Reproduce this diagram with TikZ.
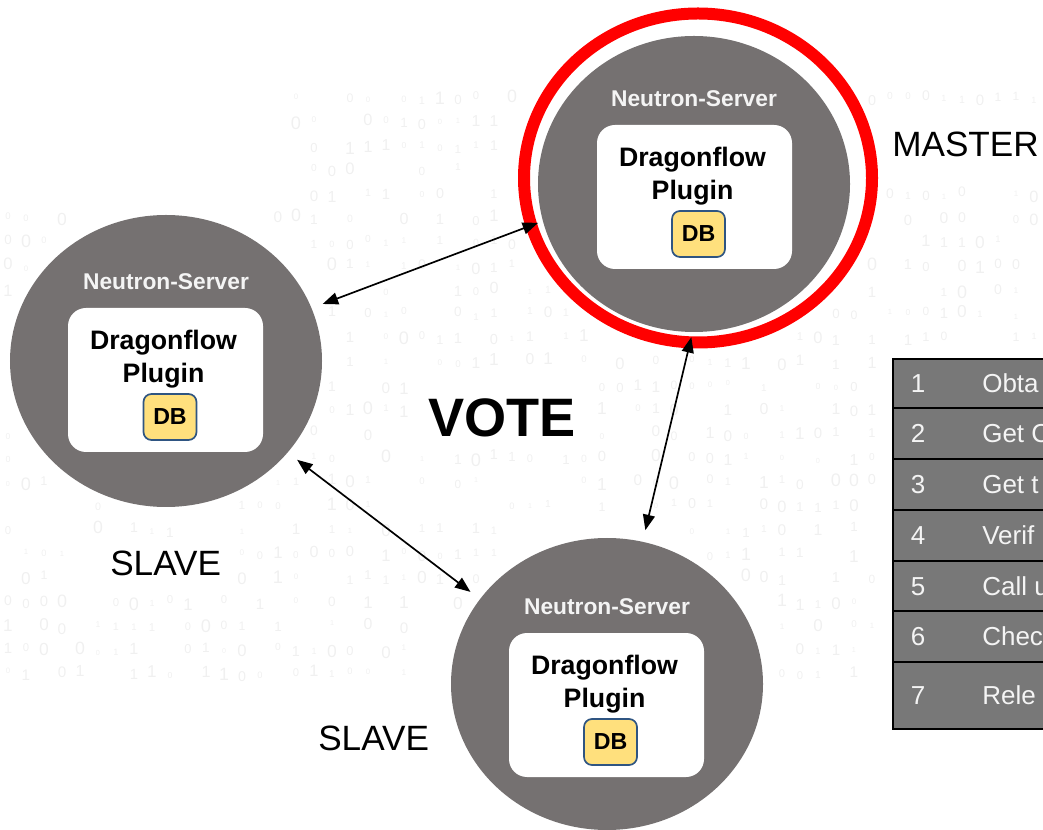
\documentclass[tikz,border=0pt]{standalone}
\usepackage{fontspec}
\setmainfont{Liberation Sans}
\usetikzlibrary{shapes.geometric, arrows.meta, positioning}
\definecolor{servergray}{RGB}{117,113,113}
\definecolor{dbyellow}{RGB}{255,224,125}
\definecolor{dbblue}{RGB}{47,85,130}
\definecolor{tablegray}{RGB}{120,120,120}
\definecolor{bitgray}{RGB}{240,240,240}
\definecolor{labelwhite}{RGB}{244,244,244}

\tikzset{
  server/.style={ellipse, fill=servergray, minimum width=7.8cm, minimum height=7.3cm, inner sep=0pt, outer sep=0.3cm},
  plugin/.style={rectangle, rounded corners=0.45cm, fill=white, minimum width=4.875cm, minimum height=3.6cm},
  dbbox/.style={rectangle, rounded corners=0.2cm, draw=dbblue, line width=1.2pt, fill=dbyellow,
    minimum width=1.325cm, minimum height=1.15cm, inner sep=0pt, font=\fontsize{16.5}{18}\selectfont\bfseries},
  srvname/.style={text=labelwhite, inner sep=0pt, font=\fontsize{16.2}{18}\selectfont\bfseries},
  plugname/.style={align=center, inner sep=0pt, font=\fontsize{19}{23.5}\selectfont\bfseries},
  role/.style={inner sep=0pt, anchor=base west, font=\fontsize{25}{28}\selectfont},
  link/.style={{Triangle[length=11pt,width=8.5pt]}-{Triangle[length=11pt,width=8.5pt]}, line width=1.2pt},
  tabrow/.style={rectangle, draw=black, line width=1.4pt, fill=tablegray, minimum width=4.5cm, inner sep=0pt},
  tabtext/.style={text=labelwhite, inner sep=0pt, font=\fontsize{18.5}{20}\selectfont},
  bit/.style={text=bitgray, inner sep=0pt}
}

\begin{document}
\begin{tikzpicture}
    \useasboundingbox (0,0) rectangle (26.075,20.725);
    \clip (0,0) rectangle (26.075,20.725);

    % faint binary digits in the free space
    \pgfmathsetseed{42}
    \foreach \x [count=\i] in {0.2,0.65,...,26.0}{
      \foreach \y [count=\j] in {3.8,4.4,...,18.7}{
        \pgfmathrandominteger{\digit}{0}{1}
        \pgfmathrandominteger{\keep}{0}{2}
        \pgfmathsetmacro{\sz}{5+8*rnd}
        \pgfmathsetmacro{\dy}{0.15*rnd}
        % leave out the servers, the table and the big labels
        \pgfmathsetmacro{\inleft}{((\x-4.15)/4.2)^2+((\y-11.7)/4.0)^2<1}
        \pgfmathsetmacro{\inmaster}{((\x-17.45)/4.8)^2+((\y-16.275)/4.55)^2<1}
        \pgfmathsetmacro{\inbottom}{((\x-15.175)/4.2)^2+((\y-3.625)/4.0)^2<1}
        \pgfmathsetmacro{\inbox}{(\x>22.0 && \y<12.1) || (\x>10.3 && \x<14.8 && \y>9.4 && \y<11.1)
                                 || (\x>2.4 && \x<5.9 && \y>5.8 && \y<7.3) || (\x>22.0 && \y>15.8 && \y<18.0)}
        \pgfmathparse{(\y<15.7 || \x>7) && !\inleft && !\inmaster && !\inbottom && !\inbox ? \keep : 0}
        \ifnum\pgfmathresult>0
          \node[bit, font=\fontsize{\sz}{\sz}\selectfont] (bit\i-\j) at (\x,\y+\dy) {\digit};
        \fi
      }
    }

    % Master: red ring around the server
    \node[ellipse, draw=red, line width=0.3cm, minimum width=8.7cm, minimum height=8.225cm] (ring) at (17.45,16.275) {};

    % Servers
    \node[server, minimum height=7.4cm, outer sep=0.13cm] (master) at (17.35,16.125) {};
    \node[server] (slaveleft) at (4.15,11.7) {};
    \node[server] (slavebottom) at (15.175,3.625) {};

    % Plugin boxes
    \node[plugin] (plugmaster) at (17.3625,15.8) {};
    \node[plugin] (plugleft) at (4.1375,11.225) {};
    \node[plugin] (plugbottom) at (15.1625,3.1) {};

    % Labels inside the servers
    \node[srvname] (namemaster) at (17.35,18.25) {Neutron-Server};
    \node[srvname] (nameleft) at (4.15,13.675) {Neutron-Server};
    \node[srvname] (namebottom) at (15.175,5.55) {Neutron-Server};

    \node[plugname] (dfmaster) at (17.3125,16.325) {Dragonflow\\Plugin};
    \node[plugname] (dfleft) at (4.0875,11.75) {Dragonflow\\Plugin};
    \node[plugname] (dfbottom) at (15.1125,3.625) {Dragonflow\\Plugin};

    % DB boxes
    \node[dbbox] (dbmaster) at (17.4625,14.875) {DB};
    \node[dbbox] (dbleft) at (4.25,10.3) {DB};
    \node[dbbox] (dbbottom) at (15.2625,2.175) {DB};

    % Arrows
    \draw[link] (slaveleft.20.6) -- (master.194);
    \draw[link] (slaveleft.-37) -- (slavebottom.146.7);
    \draw[link] (master.269.3) -- (slavebottom.76.1);

    % Roles
    \node[role] (mastertag) at (22.3,16.8) {MASTER};
    \node[role] (slavetagleft) at (2.75,6.3375) {SLAVE};
    \node[role] (slavetagbottom) at (7.95,1.9625) {SLAVE};
    \node[role, font=\fontsize{38.5}{42}\selectfont\bfseries] (vote) at (10.7,9.8) {VOTE};

    % Steps table
    \foreach \i/\lbl/\ytop/\rowh in {1/Obta/11.775/1.2375, 2/Get C/10.5375/1.2625, 3/Get t/9.275/1.275,
        4/Verif/8.0/1.275, 5/Call u/6.725/1.25, 6/Chec/5.475/1.275, 7/Rele/4.2/1.675}{
      \node[tabrow, minimum height=\rowh cm, anchor=north west] (row\i) at (22.3,\ytop) {};
      \node[tabtext, anchor=base] (num\i) at ([xshift=0.65cm, yshift=-0.23cm]row\i.west) {\i};
      \node[tabtext, anchor=base west] (txt\i) at ([xshift=2.25cm, yshift=-0.23cm]row\i.west) {\lbl};
    }
\end{tikzpicture}
\end{document}
